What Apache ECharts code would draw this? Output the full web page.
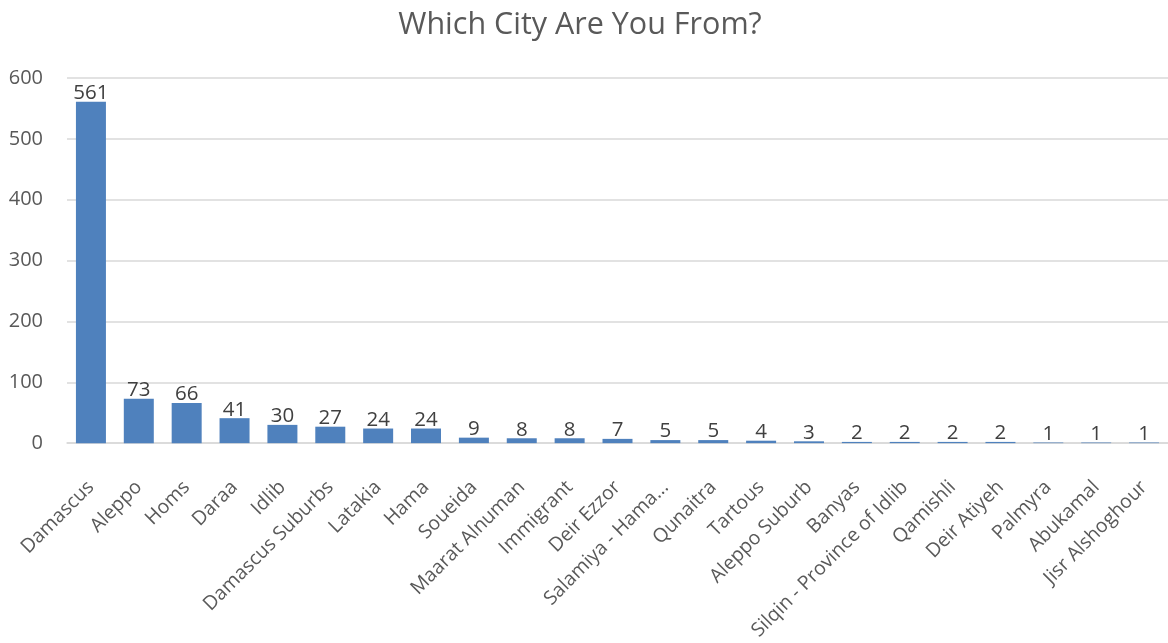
<!DOCTYPE html>
<html><head><meta charset="utf-8">
<script src="https://cdn.jsdelivr.net/npm/echarts@6/dist/echarts.min.js"></script>
<style>html,body{margin:0;padding:0;background:#fff}#c{width:1168px;height:643px}</style>
</head><body><div id="c"></div>
<script>
var titleText = "Which City Are You From?";
var categories = ["Damascus","Aleppo","Homs","Daraa","Idlib","Damascus Suburbs","Latakia","Hama","Soueida","Maarat Alnuman","Immigrant","Deir Ezzor","Salamiya - Hama...","Qunaitra","Tartous","Aleppo Suburb","Banyas","Silqin - Province of Idlib","Qamishli","Deir Atiyeh","Palmyra","Abukamal","Jisr Alshoghour"];
var values = [561,73,66,41,30,27,24,24,9,8,8,7,5,5,4,3,2,2,2,2,1,1,1];
var yTicks = [0,100,200,300,400,500,600];

var font = "'Open Sans', sans-serif";
var chart = echarts.init(document.getElementById('c'));
chart.setOption({
  animation: false,
  title: {text: titleText, left: 575, top: 5, textAlign: 'center',
    textStyle: {fontFamily: font, fontSize: 30.5, fontWeight: 'normal', color: '#595959'}},
  grid: {left: 67, top: 78, width: 1106, height: 365.4, containLabel: false},
  xAxis: {type: 'category', data: categories,
    axisLine: {lineStyle: {color: '#d9d9d9', width: 1.5}},
    axisTick: {show: false},
    axisLabel: {rotate: 45, interval: 0, margin: 41, color: '#595959', fontFamily: font, fontSize: 19.5}},
  yAxis: {type: 'value', min: yTicks[0], max: yTicks[yTicks.length-1], interval: 100,
    axisLine: {show: false}, axisTick: {show: false},
    splitLine: {lineStyle: {color: '#d9d9d9', width: 1.5}},
    axisLabel: {margin: 24, color: '#595959', fontFamily: font, fontSize: 20}},
  series: [{type: 'bar', data: values, barWidth: 30,
    itemStyle: {color: '#4f81bd'},
    label: {show: true, position: 'top', distance: -2, color: '#404040', fontFamily: font, fontSize: 20.5}}]
});
</script></body></html>
